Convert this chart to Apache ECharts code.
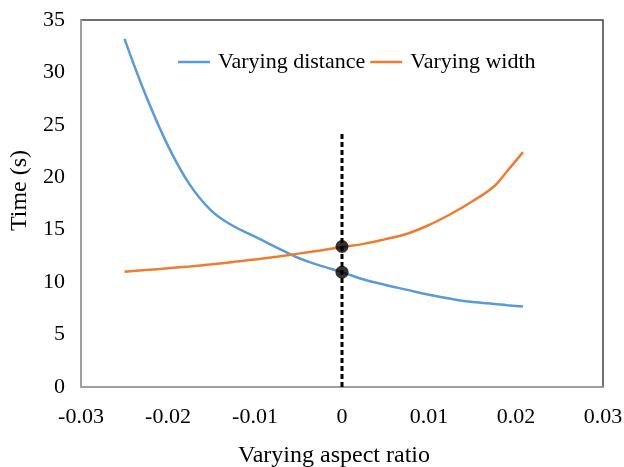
<!DOCTYPE html>
<html>
<head>
<meta charset="utf-8">
<script src="https://cdn.jsdelivr.net/npm/echarts@6/dist/echarts.min.js"></script>
<style>
  html, body { margin: 0; padding: 0; background: #fff; }
  #chart { width: 624px; height: 467px; }
</style>
</head>
<body>
<div id="chart"></div>
<script>
// aspect ratio values where the curves were sampled
const aspectRatio = [-0.025, -0.0225, -0.02, -0.0175, -0.015, -0.0125, -0.01, -0.0075, -0.005, -0.0025,
    0, 0.0025, 0.005, 0.0075, 0.01, 0.0125, 0.015, 0.0175, 0.019, 0.0208];

// time (s) when the distance is varied
const timeDistance = [33.2, 27.7, 23.0, 19.3, 16.8, 15.35, 14.35, 13.3, 12.3, 11.58,
    10.95, 10.25, 9.73, 9.26, 8.79, 8.41, 8.1, 7.92, 7.8, 7.68];

// time (s) when the width is varied
const timeWidth = [11.0, 11.15, 11.33, 11.5, 11.7, 11.92, 12.15, 12.42, 12.72, 13.02,
    13.35, 13.65, 14.1, 14.62, 15.45, 16.5, 17.72, 19.15, 20.6, 22.4];

// reference marker at aspect ratio 0
const markerLine = [[0, 0], [0, 24.3]];
const markerDots = [[0, 13.4], [0, 10.95]];

const font = 'Liberation Serif';

const chart = echarts.init(document.getElementById('chart'));

chart.setOption({
    animation: false,
    grid: {
        left: 81,
        right: 21,
        top: 20,
        bottom: 80,
        outerBoundsMode: 'none',
        containLabel: false,
        show: true,
        borderColor: '#404040',
        borderWidth: 1.5
    },
    legend: {
        data: ['Varying distance', 'Varying width'],
        left: 173,
        top: 46,
        icon: 'rect',
        itemWidth: 32,
        itemHeight: 2.5,
        itemGap: 5,
        textStyle: {
            fontFamily: font,
            fontSize: 22,
            color: '#000',
            padding: [0, 0, 0, 3]
        }
    },
    xAxis: {
        type: 'value',
        min: -0.03,
        max: 0.03,
        interval: 0.01,
        name: 'Varying aspect ratio',
        nameLocation: 'middle',
        nameGap: 57,
        nameTextStyle: {
            fontFamily: font,
            fontSize: 24,
            color: '#000',
            padding: [0, 16, 0, 0]
        },
        axisLine: { onZero: false, lineStyle: { color: '#b0b0b0', width: 1.5 } },
        axisTick: { show: false },
        splitLine: { show: false },
        axisLabel: {
            fontFamily: font,
            fontSize: 22,
            color: '#000',
            margin: 19,
            formatter: v => (Math.abs(v) < 1e-9 ? '0' : v.toFixed(2))
        }
    },
    yAxis: {
        type: 'value',
        min: 0,
        max: 35,
        interval: 5,
        name: 'Time (s)',
        nameLocation: 'middle',
        nameGap: 49,
        nameTextStyle: {
            fontFamily: font,
            fontSize: 24,
            color: '#000',
            padding: [0, 0, 0, 26]
        },
        axisLine: { show: true, onZero: false, lineStyle: { color: '#b0b0b0', width: 1.5 } },
        axisTick: { show: false },
        splitLine: { show: false },
        axisLabel: {
            fontFamily: font,
            fontSize: 22,
            color: '#000',
            margin: 16
        }
    },
    series: [
        {
            name: 'Varying distance',
            type: 'line',
            smooth: 0.4,
            symbol: 'none',
            data: aspectRatio.map((x, i) => [x, timeDistance[i]]),
            lineStyle: { color: '#5B9BD5', width: 2.5 },
            itemStyle: { color: '#5B9BD5' }
        },
        {
            name: 'Varying width',
            type: 'line',
            smooth: 0.4,
            symbol: 'none',
            data: aspectRatio.map((x, i) => [x, timeWidth[i]]),
            lineStyle: { color: '#ED7D31', width: 2.5 },
            itemStyle: { color: '#ED7D31' }
        },
        {
            name: 'marker',
            type: 'line',
            symbol: 'none',
            data: markerLine,
            lineStyle: { color: '#000', width: 3, type: [5, 3] },
            z: 3
        },
        {
            name: 'dots',
            type: 'scatter',
            symbolSize: 13,
            data: markerDots,
            itemStyle: { color: '#000' },
            z: 4
        }
    ]
});
</script>
</body>
</html>
